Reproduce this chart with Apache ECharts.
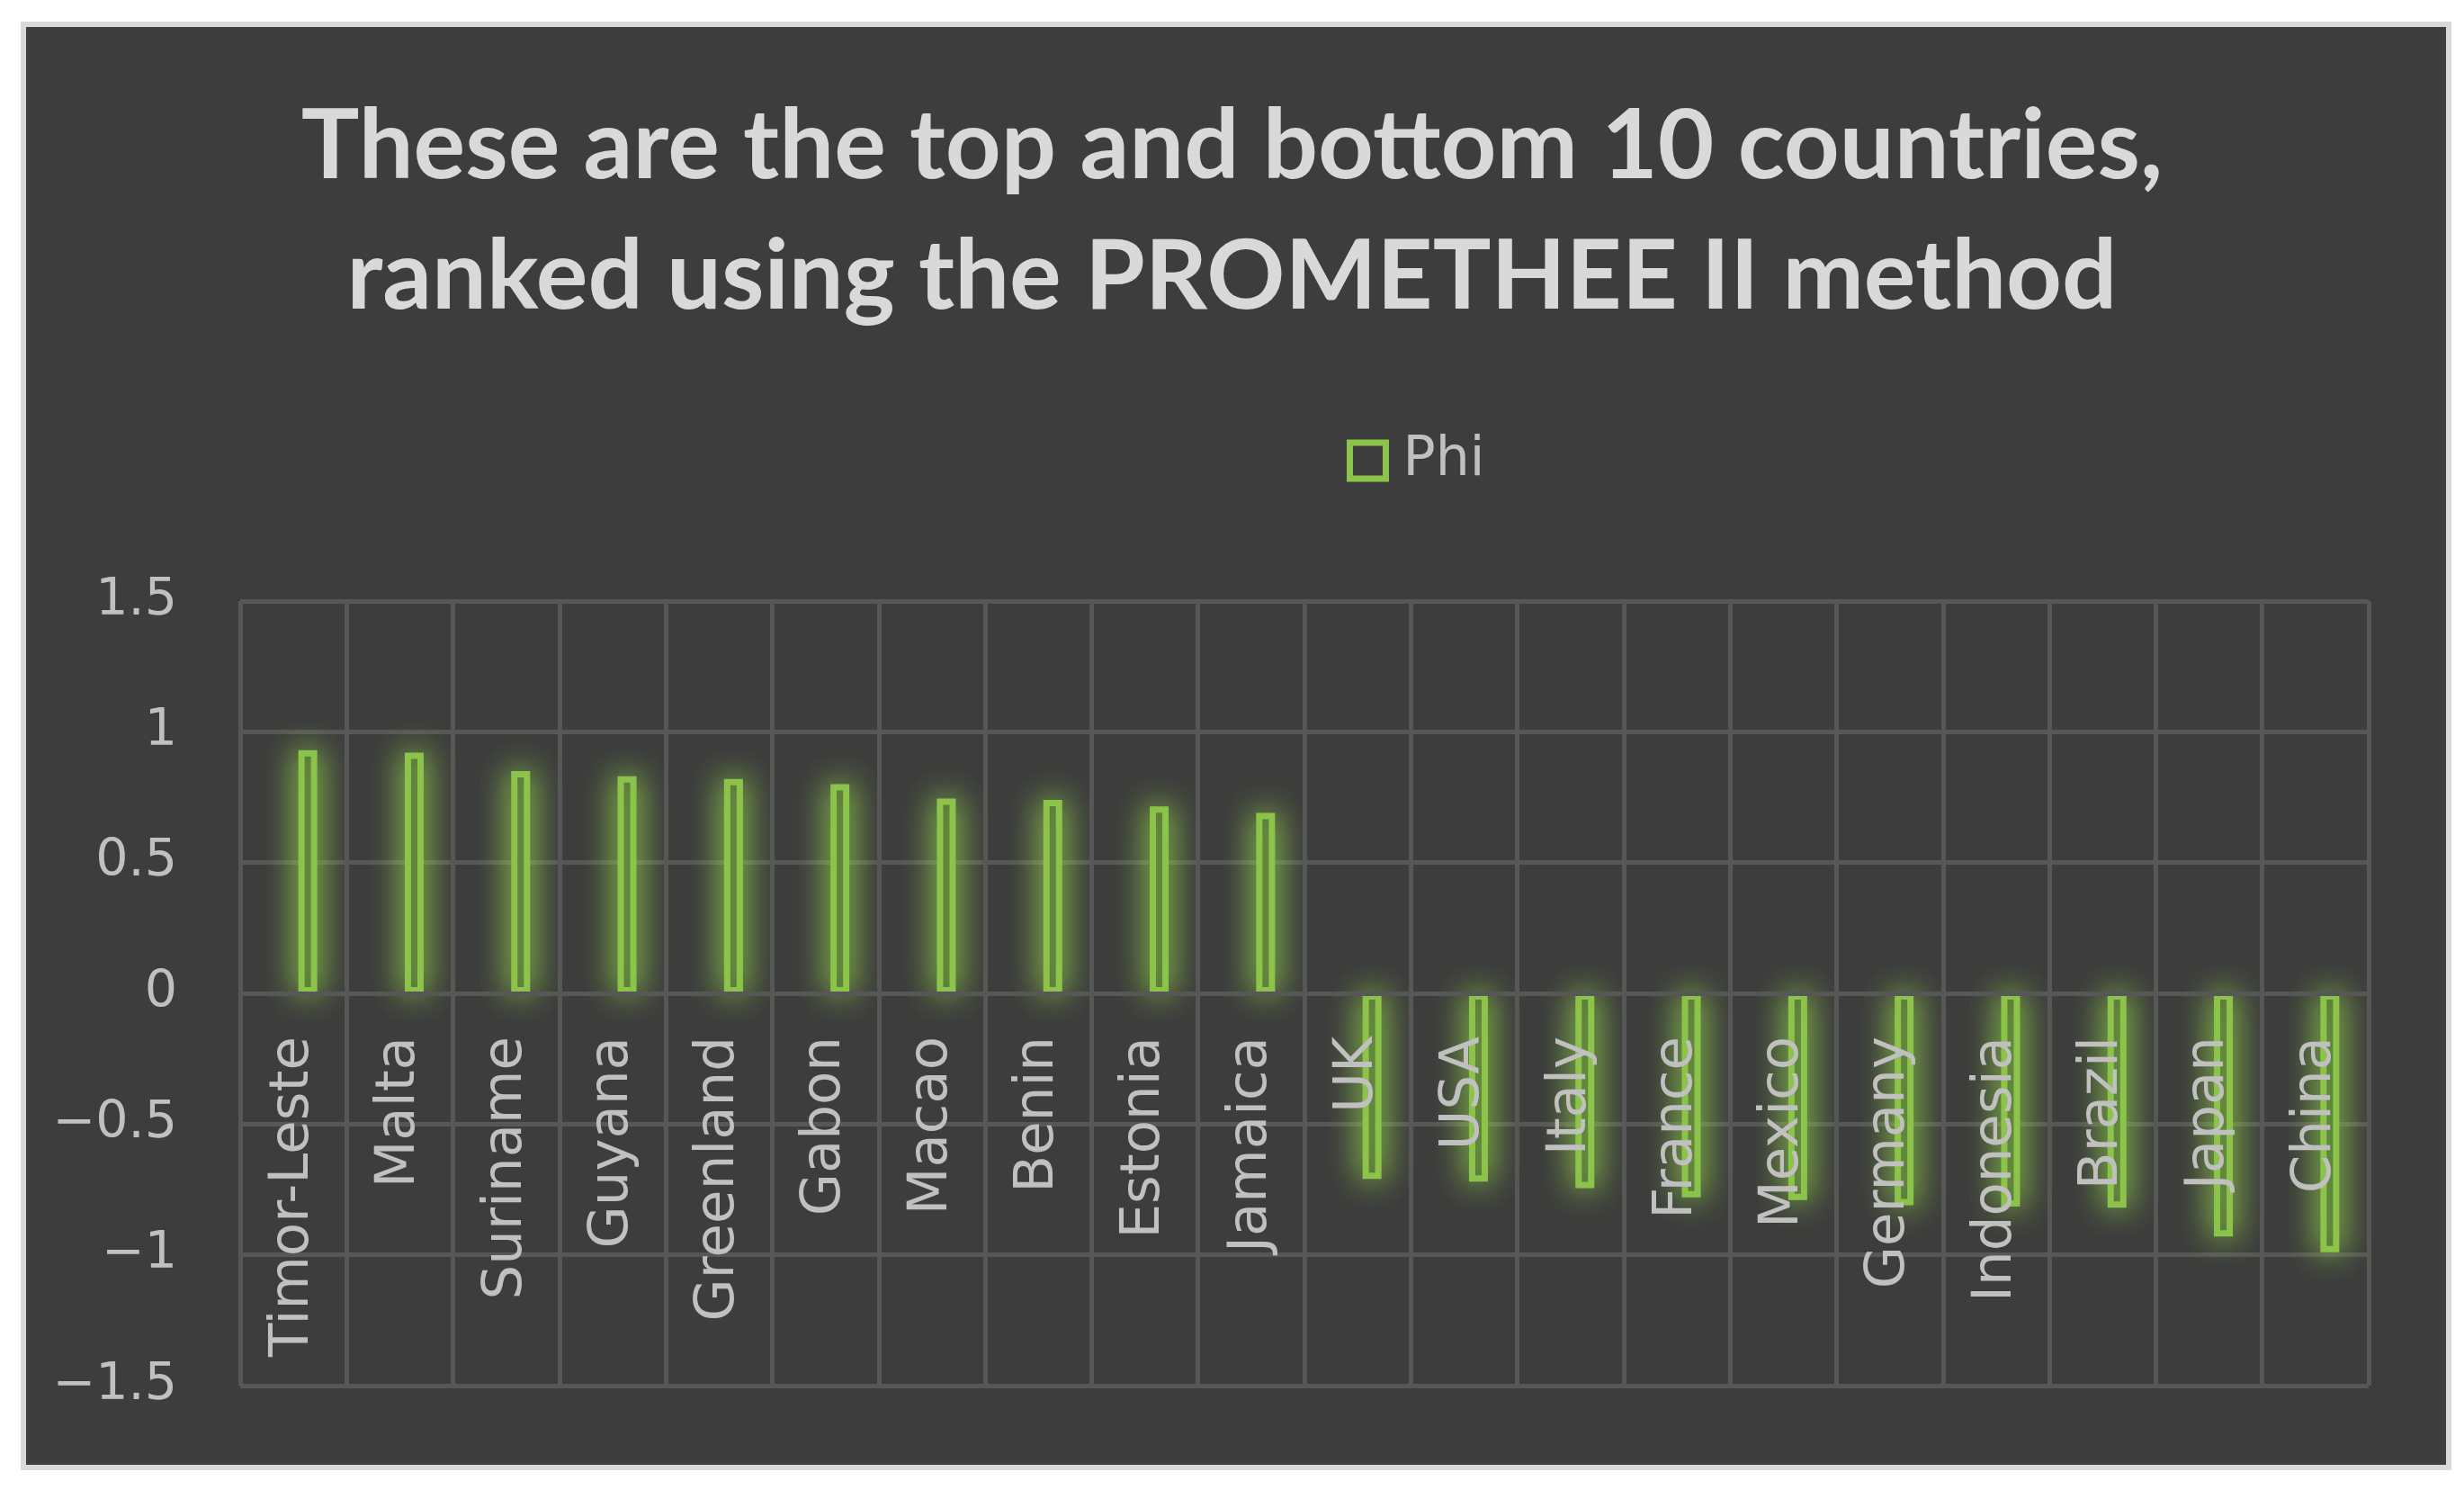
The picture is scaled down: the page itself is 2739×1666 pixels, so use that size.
<!DOCTYPE html>
<html>
<head>
<meta charset="utf-8">
<title>PROMETHEE II top and bottom 10</title>
<script src="https://cdn.jsdelivr.net/npm/echarts@6/dist/echarts.min.js"></script>
<style>
  html, body { margin: 0; padding: 0; background: #fff; }
  #chart { width: 2739px; height: 1666px; }
</style>
</head>
<body>
<div id="chart"></div>
<script>
  // top 10 then bottom 10 countries (PROMETHEE II net flow, Phi)
  var countries = ['Timor-Leste', 'Malta', 'Suriname', 'Guyana', 'Greenland', 'Gabon', 'Macao', 'Benin', 'Estonia', 'Jamaica',
    'UK', 'USA', 'Italy', 'France', 'Mexico', 'Germany', 'Indonesia', 'Brazil', 'Japan', 'China']
  var phi = [0.93, 0.92, 0.85, 0.83, 0.82, 0.80, 0.745, 0.74, 0.715, 0.69,
    -0.71, -0.72, -0.745, -0.78, -0.79, -0.81, -0.815, -0.82, -0.93, -0.99]
  var yMin = -1.5
  var yMax = 1.5
  var yStep = 0.5

  var green = '#8cc34b'
  var labelColor = '#c0c0c0'
  var gridColor = '#575757'

  var gridTop = 668
  var gridBottom = 126
  var plotH = 1666 - gridTop - gridBottom
  // category labels hang from the zero line, not from the bottom of the plot
  var zeroOffset = -plotH * (0 - yMin) / (yMax - yMin)

  var myChart = echarts.init(document.getElementById('chart'))
  var option = {
    backgroundColor: '#fff',
    graphic: [{
      type: 'rect',
      z: -100,
      shape: { x: 26, y: 27, width: 2696, height: 1604 },
      style: { fill: '#3d3d3d', stroke: '#d9d9d9', lineWidth: 6 }
    }],
    title: {
      text: 'These are the top and bottom 10 countries,\nranked using the PROMETHEE II method',
      left: 'center',
      top: 86,
      textStyle: {
        fontFamily: 'Lato',
        fontWeight: 'bold',
        fontSize: 108,
        lineHeight: 145,
        color: '#d9d9d9'
      }
    },
    legend: {
      data: ['Phi'],
      left: 1492,
      top: 477,
      itemWidth: 40,
      itemHeight: 40,
      icon: 'rect',
      itemStyle: {
        color: 'rgba(0,0,0,0)',
        borderColor: green,
        borderWidth: 7,
        shadowBlur: 0
      },
      textStyle: {
        fontFamily: 'DejaVu Sans',
        fontSize: 60,
        lineHeight: 60,
        color: labelColor,
        padding: [0, 0, 0, 14]
      }
    },
    grid: {
      left: 267,
      right: 106,
      top: gridTop,
      bottom: gridBottom,
      outerBoundsMode: 'none'
    },
    xAxis: {
      type: 'category',
      data: countries,
      z: 5,
      offset: zeroOffset,
      axisLine: {
        show: true,
        onZero: false,
        lineStyle: { color: gridColor, width: 5 }
      },
      axisTick: { show: false },
      axisLabel: {
        interval: 0,
        rotate: 90,
        margin: 48,
        fontFamily: 'DejaVu Sans',
        fontSize: 61,
        color: labelColor
      },
      splitLine: {
        show: true,
        interval: 0,
        lineStyle: { color: gridColor, width: 5 }
      }
    },
    yAxis: {
      type: 'value',
      min: yMin,
      max: yMax,
      interval: yStep,
      axisLine: { show: false },
      axisTick: { show: false },
      axisLabel: {
        margin: 70,
        fontFamily: 'DejaVu Sans',
        fontSize: 57,
        color: labelColor,
        formatter: function (v) {
          return v < 0 ? '\u2212' + Math.abs(v) : String(v)
        }
      },
      splitLine: {
        lineStyle: { color: gridColor, width: 5 }
      }
    },
    series: [
      {
        // empty slot, the Phi bars sit right of the category centre in the original
        name: 'gap',
        type: 'bar',
        barWidth: 32,
        barGap: '0%',
        data: []
      },
      {
        name: 'Phi',
        type: 'bar',
        barWidth: 21,
        data: phi,
        itemStyle: {
          color: '#4f6538',
          borderColor: green,
          borderWidth: 7,
          shadowBlur: 36,
          shadowColor: 'rgba(150,215,75,1)'
        }
      }
    ]
  }

  myChart.setOption(option)
</script>
</body>
</html>
